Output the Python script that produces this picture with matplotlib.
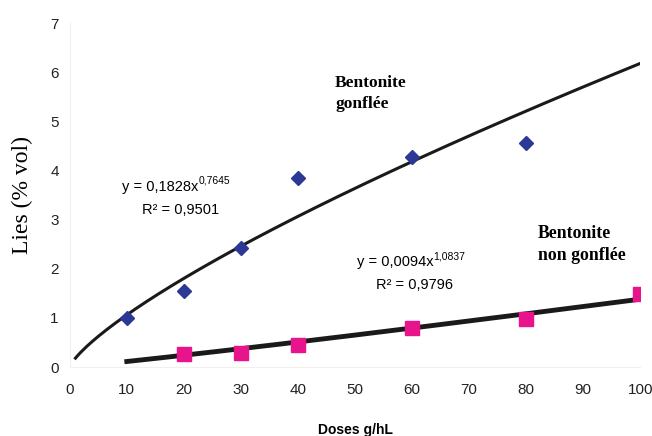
import numpy as np
import matplotlib.pyplot as plt

# données
doses_g = [10, 20, 30, 40, 60, 80]
lies_g = [1.0, 1.55, 2.42, 3.85, 4.27, 4.57]
doses_ng = [20, 30, 40, 60, 80, 100]
lies_ng = [0.27, 0.29, 0.46, 0.8, 0.98, 1.48]

# courbes de tendance (puissance) : coefficients affichés
coef_g = (0.1828, 0.7645)
coef_ng = (0.0094, 1.0837)

fig = plt.figure(figsize=(6.52, 4.36), dpi=100)
ax = fig.add_axes([0.107, 0.158, 0.875, 0.789])

xg = np.linspace(1, 100, 200)
ax.plot(xg, coef_g[0] * xg ** coef_g[1], color='#1a1a1a', lw=2.2)
xn = np.linspace(10, 100, 200)
ax.plot(xn, coef_ng[0] * xn ** coef_ng[1], color='#1a1a1a', lw=3.5)

ax.plot(doses_g, lies_g, 'D', color='#2B3896', ms=7.5, zorder=3)
ax.plot(doses_ng, lies_ng, 's', color='#E8148C', ms=9.5, zorder=3)

ax.set_xlim(0, 100)
ax.set_ylim(0, 7)
ax.set_xticks(range(0, 101, 10))
ax.set_yticks(range(0, 8))
ax.tick_params(length=0, labelsize=11)
ax.tick_params(axis='x', pad=11.5)
ax.tick_params(axis='y', pad=8)
for lab in ax.get_xticklabels() + ax.get_yticklabels():
    lab.set_family('Liberation Sans')
    lab.set_color('#222222')
for s in ['top', 'right']:
    ax.spines[s].set_visible(False)
for s in ['left', 'bottom']:
    ax.spines[s].set_color('#f0f0f0')

ax.set_ylabel('Lies (% vol)', family='Liberation Serif', fontsize=17, labelpad=12)
ax.set_xlabel('Doses g/hL', family='Liberation Sans', fontweight='bold',
              fontsize=10, labelpad=18.5)

ax.text(46.5, 5.95, 'Bentonite\ngonflée', family='Liberation Serif',
        fontweight='bold', fontsize=12.5, va='top', ha='left', linespacing=1.45)
ax.text(82, 2.9, 'Bentonite\nnon gonflée', family='Liberation Serif',
        fontweight='bold', fontsize=12.8, va='top', ha='left', linespacing=1.45)


def equation(x, y, coef, r2):
    t = ax.text(x, y, 'y = %sx' % str(coef[0]).replace('.', ','),
                family='Liberation Sans', fontsize=10.5, va='center', ha='left')
    ax.annotate(str(coef[1]).replace('.', ','), xy=(1.0, 0.95), xycoords=t,
                family='Liberation Sans', fontsize=7.5, va='center', ha='left')
    ax.text(x + 3.4, y - 0.46, 'R² = %s' % str(r2).replace('.', ','),
            family='Liberation Sans', fontsize=10.5, va='center', ha='left')


equation(9.2, 3.66, coef_g, 0.9501)
equation(50.3, 2.13, coef_ng, 0.9796)

fig.savefig('out.png', dpi=100)
